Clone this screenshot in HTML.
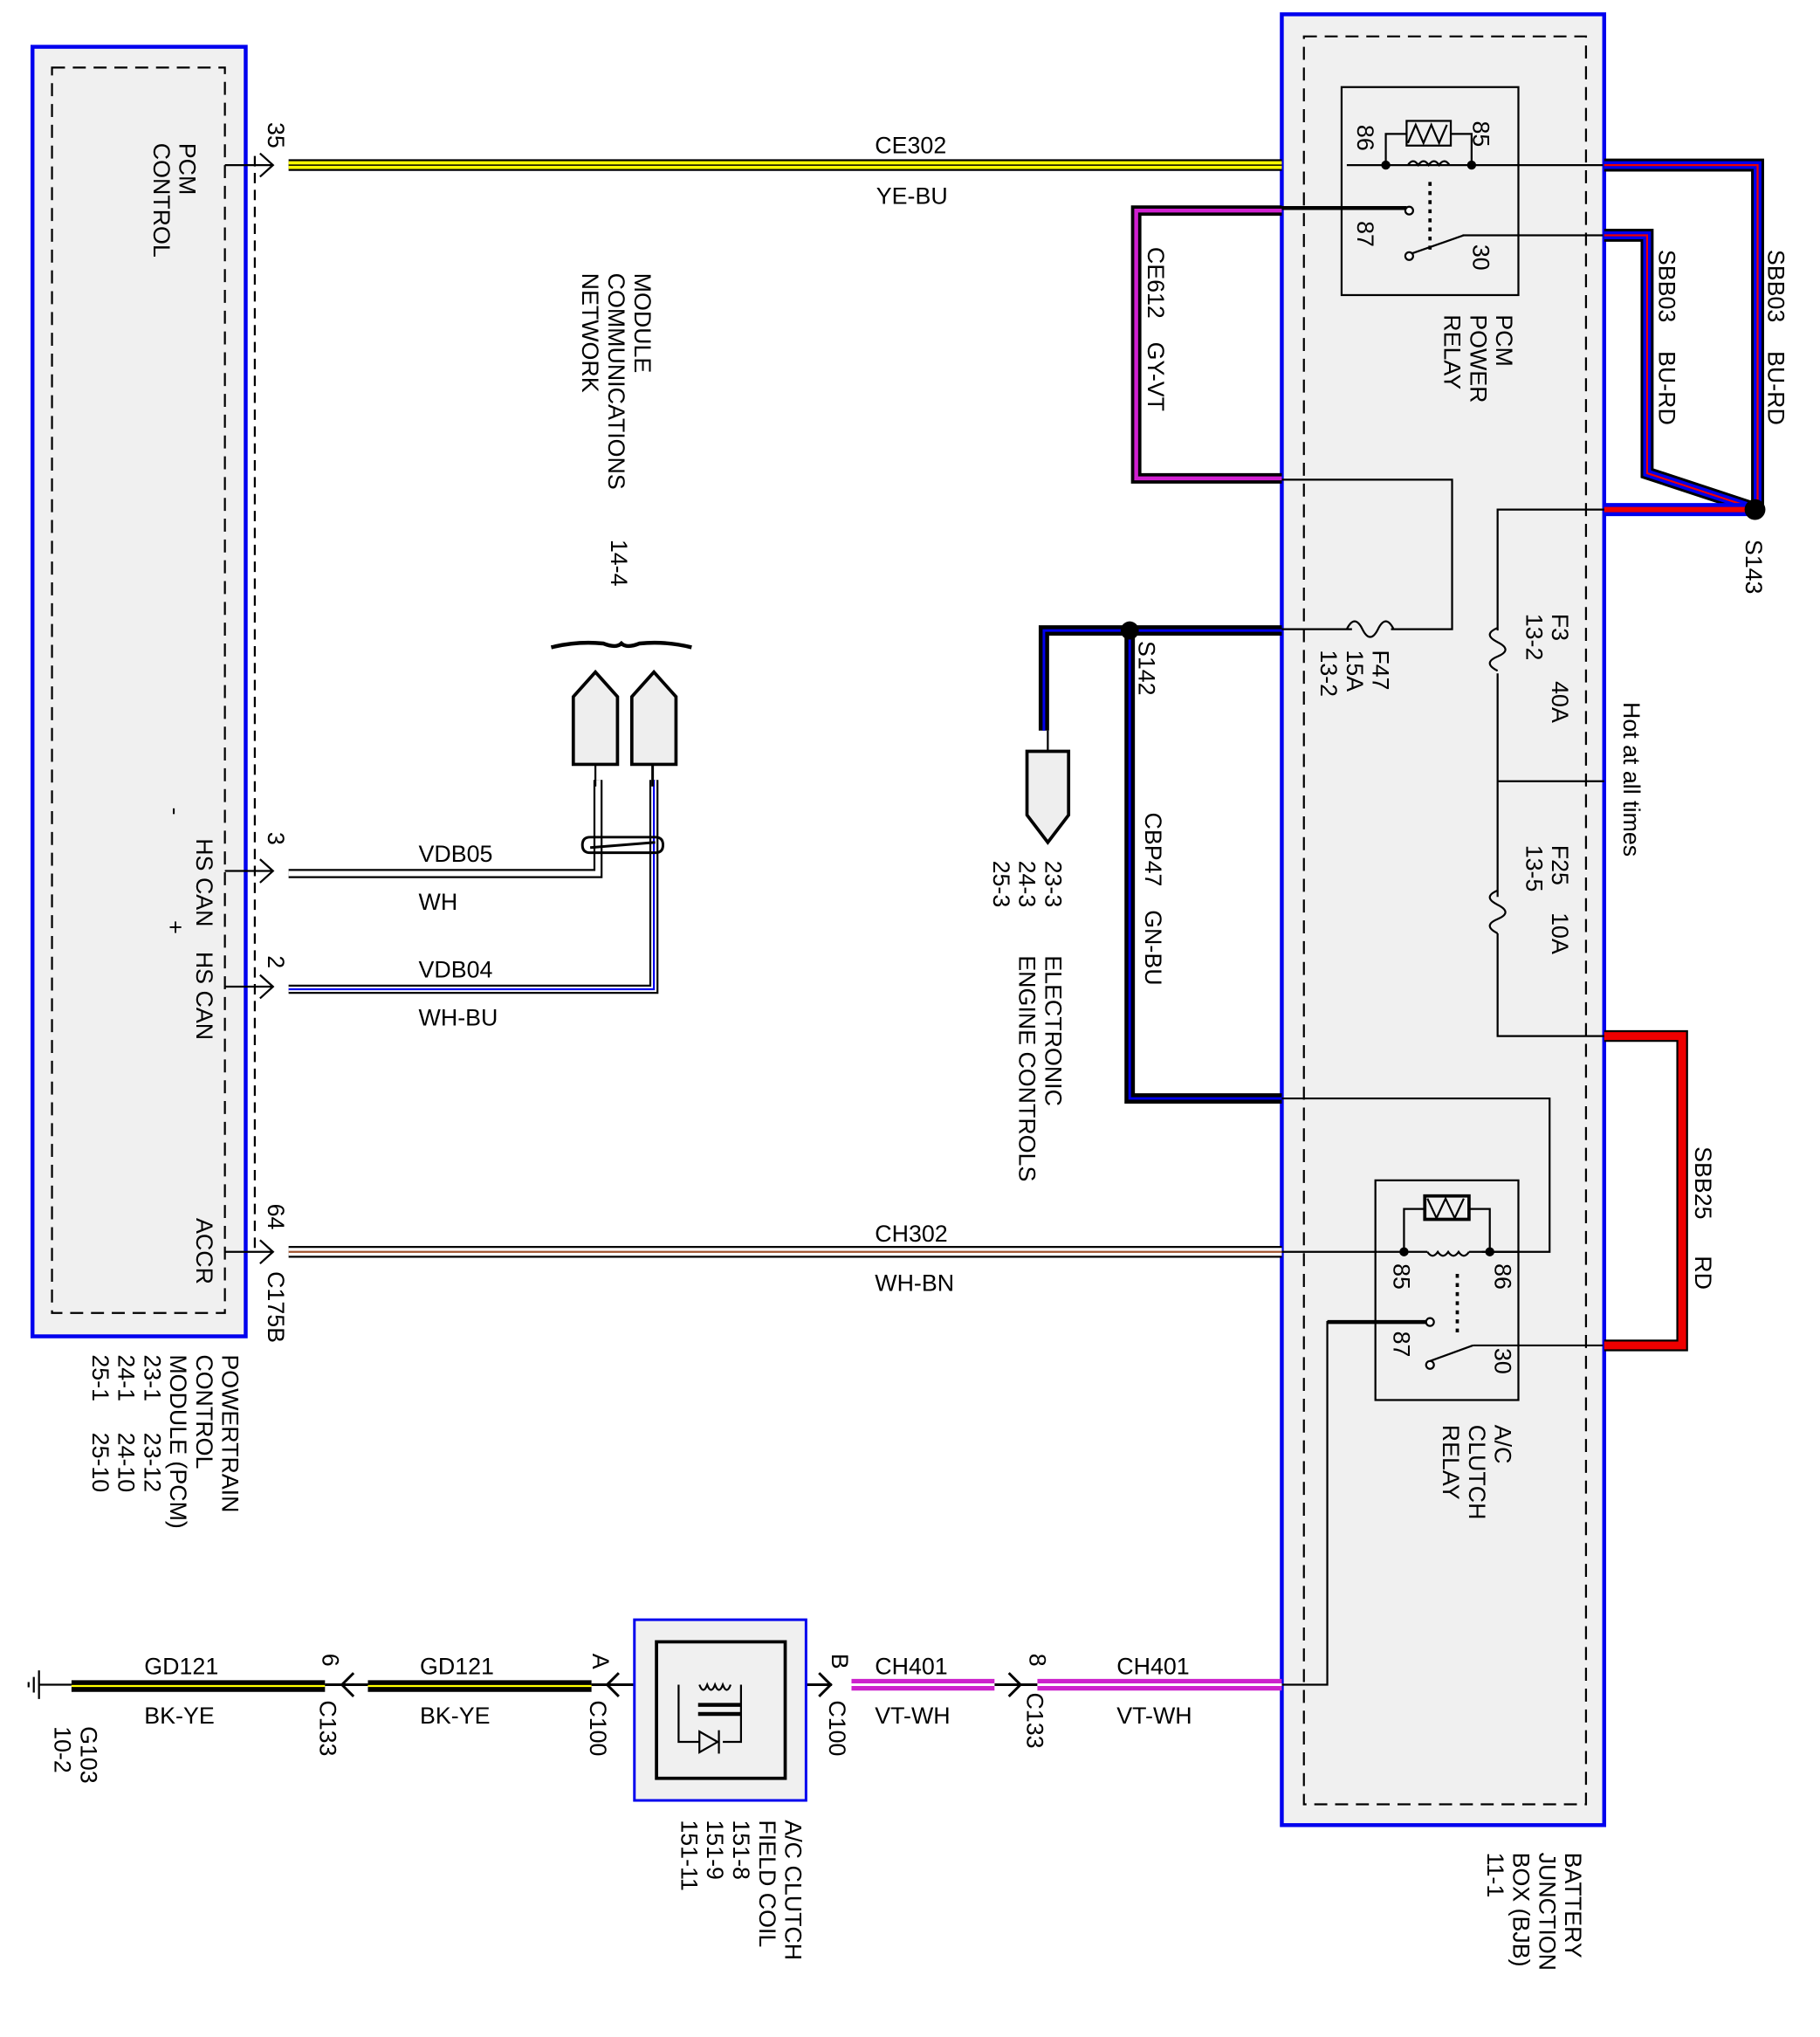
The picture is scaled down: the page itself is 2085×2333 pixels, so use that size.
<!DOCTYPE html>
<html><head><meta charset="utf-8"><style>html,body{margin:0;padding:0;background:#fff}svg{display:block}text{font-family:"Liberation Sans",sans-serif;font-size:18px;fill:#000}</style></head><body>
<svg width="2085" height="2333" viewBox="0 0 1400 1567" preserveAspectRatio="none" xmlns="http://www.w3.org/2000/svg">
<rect width="1412" height="1580" fill="#fff"/>
<rect x="25" y="36" width="164" height="992" fill="#f0f0f0" stroke="#0000ee" stroke-width="3"/>
<rect x="40" y="52" width="133" height="958" fill="none" stroke="#000" stroke-width="1.5" stroke-dasharray="10,6"/>
<line x1="196" y1="120" x2="196" y2="965" stroke="#000" stroke-width="1.5" stroke-dasharray="8,5"/>
<rect x="986" y="11" width="248" height="1393" fill="#f0f0f0" stroke="#0000ee" stroke-width="3"/>
<rect x="1003" y="28" width="217" height="1360" fill="none" stroke="#000" stroke-width="1.5" stroke-dasharray="10,6"/>
<g stroke-linecap="butt">
<line x1="222" y1="127" x2="986" y2="127" stroke="#000" stroke-width="9"/>
<line x1="222" y1="127" x2="986" y2="127" stroke="#ffff00" stroke-width="6"/>
<line x1="222" y1="127" x2="986" y2="127" stroke="#000" stroke-width="1"/>
<line x1="222" y1="963" x2="986" y2="963" stroke="#000" stroke-width="9"/>
<line x1="222" y1="963" x2="986" y2="963" stroke="#fff" stroke-width="6"/>
<line x1="222" y1="963" x2="986" y2="963" stroke="#a0522d" stroke-width="1.5"/>
</g>
<g fill="none" stroke="#000" stroke-width="1.5">
<path d="M173 127H210M200 118l10 9-10 9"/>
<path d="M173 670H210M200 661l10 9-10 9"/>
<path d="M173 759H210M200 750l10 9-10 9"/>
<path d="M173 963H210M200 954l10 9-10 9"/>
</g>
<g fill="none">
<path d="M222 672H460V600" stroke="#000" stroke-width="7"/>
<path d="M222 672H460V600" stroke="#fff" stroke-width="4"/>
<path d="M222 761H503V600" stroke="#000" stroke-width="7"/>
<path d="M222 761H503V600" stroke="#fff" stroke-width="4"/>
<path d="M222 761H503V600" stroke="#0000ee" stroke-width="1.5"/>
<line x1="458" y1="588" x2="458" y2="605" stroke="#000" stroke-width="1.5"/>
<line x1="502" y1="588" x2="502" y2="605" stroke="#000" stroke-width="2"/>
<path d="M448 650q0-6 6-6h50q6 0 6 6t-6 6h-50q-6 0-6-6M454 652L504 648" stroke="#000" stroke-width="2"/>
<path d="M424 498q20-5 40-3 10 4 14 0 4 4 14 0 20-2 40 3" stroke="#000" stroke-width="3"/>
</g>
<g fill="#eee" stroke="#000" stroke-width="2.5">
<path d="M441 588V536l17-19 17 19v52z"/>
<path d="M486 588V536l17-19 17 19v52z"/>
<path d="M790 578H822V627L806 648 790 627z"/>
</g>
<path d="M986 162H874V368H986" fill="none" stroke="#000" stroke-width="8"/>
<path d="M986 162H874V368H986" fill="none" stroke="#d020d0" stroke-width="3"/>
<path d="M986 485H803V562" fill="none" stroke="#000" stroke-width="8"/>
<path d="M986 485H803V562" fill="none" stroke="#0000ee" stroke-width="2"/>
<path d="M806 562V578" stroke="#000" stroke-width="1.5"/>
<path d="M869 485V845H986" fill="none" stroke="#000" stroke-width="8"/>
<path d="M869 485V845H986" fill="none" stroke="#0000ee" stroke-width="2"/>
<circle cx="869" cy="485" r="7" fill="#000"/>
<g fill="none">
<path d="M1234 127H1352V390" stroke="#000" stroke-width="10"/>
<path d="M1234 127H1352V390" stroke="#0000ee" stroke-width="6"/>
<path d="M1234 127H1352V390" stroke="#e00" stroke-width="1.5"/>
<path d="M1234 181H1267V364L1346 390" stroke="#000" stroke-width="10"/>
<path d="M1234 181H1267V364L1346 390" stroke="#0000ee" stroke-width="6"/>
<path d="M1234 181H1267V364L1346 390" stroke="#e00" stroke-width="1.5"/>
<path d="M1234 392H1348" stroke="#0000ee" stroke-width="10"/>
<path d="M1234 392H1348" stroke="#e00" stroke-width="4"/>
<path d="M1234 797H1294V1035H1234" stroke="#000" stroke-width="9"/>
<path d="M1234 797H1294V1035H1234" stroke="#ee0000" stroke-width="6"/>
</g>
<circle cx="1350" cy="392" r="8" fill="#000"/>
<g fill="none" stroke="#000" stroke-width="1.5">
<path d="M1233 127H1036M1233 181H1125"/>
<path d="M986 369H1117V484H1070M1040 484H986"/>
<path d="M1036 484q6-12 12 0t12 0t12 0" />
<path d="M1234 392H1152V485M1152 518V690M1152 718V797H1234M1152 601H1234"/>
<path d="M1152 485q-12 5 0 11t0 11q-12 5 0 11" transform="translate(0,-2)"/>
<path d="M1152 690q-12 5 0 11t0 11q-12 5 0 11" transform="translate(0,-5)"/>
<path d="M986 845H1192V963H1140M986 963H1060"/>
<path d="M1233 1035H1133"/>
<path d="M1098 1017H1021V1296H986"/>
</g>
<path d="M986 160H1082M1098 1017H1021" stroke="#000" stroke-width="3" fill="none"/>
<rect x="1032" y="67" width="136" height="160" fill="none" stroke="#000" stroke-width="1.5"/>
<g fill="none" stroke="#000" stroke-width="1.5">
<path d="M1066 127V103H1082M1116 103H1132V127"/>
<rect x="1082" y="93" width="34" height="19"/>
<path d="M1083 110l6-14 6 14 6-14 6 14 6-14"/>
<path d="M1083 127q4 -6 8 0q4 -6 8 0q4-6 8 0q4-6 8 0"/>
<path d="M1100 140V195" stroke-dasharray="3,4" stroke-width="2.5"/>
<path d="M1086 195L1126 181"/>
<circle cx="1084" cy="162" r="3" fill="#fff"/>
<circle cx="1084" cy="197" r="3" fill="#fff"/>
</g>
<circle cx="1066" cy="127" r="3.5" fill="#000"/><circle cx="1132" cy="127" r="3.5" fill="#000"/>
<rect x="1058" y="908" width="110" height="169" fill="none" stroke="#000" stroke-width="1.5"/>
<g fill="none" stroke="#000" stroke-width="1.5">
<path d="M1080 963V930H1096M1130 930H1146V963"/>
<rect x="1096" y="920" width="34" height="18" stroke-width="2.5"/>
<path d="M1098 922l7 15 7-15 7 15 7-15"/>
<path d="M1098 963q4 6 8 0q4 6 8 0q4 6 8 0q4 6 8 0"/>
<path d="M1060 963H1098M1130 963H1168"/>
<path d="M1121 980V1025" stroke-dasharray="3,4" stroke-width="2.5"/>
<path d="M1100 1047L1133 1035"/>
<circle cx="1100" cy="1017" r="3" fill="#fff"/>
<circle cx="1100" cy="1050" r="3" fill="#fff"/>
</g>
<circle cx="1080" cy="963" r="3.5" fill="#000"/><circle cx="1146" cy="963" r="3.5" fill="#000"/>
<g>
<path d="M30 1296H55M30 1285V1307M26 1290V1302M22 1294V1298" stroke="#000" stroke-width="1.5" fill="none"/>
<line x1="55" y1="1297" x2="250" y2="1297" stroke="#000" stroke-width="9"/>
<line x1="55" y1="1297" x2="250" y2="1297" stroke="#ffff00" stroke-width="1.5"/>
<line x1="283" y1="1297" x2="455" y2="1297" stroke="#000" stroke-width="9"/>
<line x1="283" y1="1297" x2="455" y2="1297" stroke="#ffff00" stroke-width="1.5"/>
<path d="M250 1296H283M272 1287l-9 9 9 9M455 1296H630M476 1287l-9 9 9 9M620 1296H640M630 1287l9 9-9 9M765 1296H798M776 1287l9 9-9 9" stroke="#000" stroke-width="2" fill="none"/>
<g fill="none">
<line x1="655" y1="1296" x2="765" y2="1296" stroke="#cc22cc" stroke-width="9"/>
<line x1="655" y1="1296" x2="765" y2="1296" stroke="#fff" stroke-width="2"/>
<line x1="798" y1="1296" x2="986" y2="1296" stroke="#cc22cc" stroke-width="9"/>
<line x1="798" y1="1296" x2="986" y2="1296" stroke="#fff" stroke-width="2"/>
</g>
<rect x="488" y="1246" width="132" height="139" fill="#f0f0f0" stroke="#0000ee" stroke-width="2"/>
<rect x="505" y="1263" width="99" height="105" fill="none" stroke="#000" stroke-width="2.5"/>
<g fill="none" stroke="#000" stroke-width="1.5">
<path d="M522 1296V1340H538M556 1340H570V1296"/>
<path d="M538 1296q3 8 6 0q3 8 6 0q3 8 6 0q3 8 6 0"/>
<path d="M538 1332l14 8-14 8z"/>
<path d="M553 1331V1349"/>
</g>
<rect x="537" y="1310" width="33" height="3" fill="#000"/><rect x="537" y="1317" width="33" height="3" fill="#000"/>
</g>
<text x="673" y="118">CE302</text><text x="674" y="157">YE-BU</text>
<text x="322" y="663">VDB05</text><text x="322" y="700">WH</text>
<text x="322" y="752">VDB04</text><text x="322" y="789">WH-BU</text>
<text x="673" y="955">CH302</text><text x="673" y="993">WH-BN</text>
<text x="111" y="1288">GD121</text><text x="111" y="1326">BK-YE</text>
<text x="323" y="1288">GD121</text><text x="323" y="1326">BK-YE</text>
<text x="673" y="1288">CH401</text><text x="673" y="1326">VT-WH</text>
<text x="859" y="1288">CH401</text><text x="859" y="1326">VT-WH</text>
<g font-size="17">
<text transform="translate(138,110) rotate(90)">PCM<tspan x="0" dy="20">CONTROL</tspan></text>
<text transform="translate(151,645) rotate(90)">HS CAN<tspan x="-24" dy="22">-</tspan></text>
<text transform="translate(151,732) rotate(90)">HS CAN<tspan x="-24" dy="22">+</tspan></text>
<text transform="translate(151,937) rotate(90)">ACCR</text>
<text transform="translate(206,94) rotate(90)">35</text>
<text transform="translate(206,640) rotate(90)">3</text>
<text transform="translate(206,735) rotate(90)">2</text>
<text transform="translate(206,926) rotate(90)">64</text>
<text transform="translate(206,978) rotate(90)">C175B</text>
<text transform="translate(171,1042) rotate(90)">POWERTRAIN<tspan x="0" dy="20">CONTROL</tspan><tspan x="0" dy="20">MODULE (PCM)</tspan><tspan x="0" dy="20">23-1</tspan><tspan x="60" dy="0">23-12</tspan><tspan x="0" dy="20">24-1</tspan><tspan x="60" dy="0">24-10</tspan><tspan x="0" dy="20">25-1</tspan><tspan x="60" dy="0">25-10</tspan></text>
<text transform="translate(488,210) rotate(90)">MODULE<tspan x="0" dy="20">COMMUNICATIONS</tspan><tspan x="0" dy="20">NETWORK</tspan></text>
<text transform="translate(470,415) rotate(90)">14-4</text>
<text transform="translate(804,662) rotate(90)">23-3<tspan x="0" dy="20">24-3</tspan><tspan x="0" dy="20">25-3</tspan></text>
<text transform="translate(804,735) rotate(90)">ELECTRONIC<tspan x="0" dy="20">ENGINE CONTROLS</tspan></text>
<text transform="translate(883,190) rotate(90)">CE612<tspan dx="18">GY-VT</tspan></text>
<text transform="translate(876,493) rotate(90)">S142</text>
<text transform="translate(881,625) rotate(90)">CBP47<tspan dx="18">GN-BU</tspan></text>
<text transform="translate(1044,96) rotate(90)">86</text>
<text transform="translate(1133,93) rotate(90)">85</text>
<text transform="translate(1044,170) rotate(90)">87</text>
<text transform="translate(1133,188) rotate(90)">30</text>
<text transform="translate(1151,242) rotate(90)">PCM<tspan x="0" dy="20">POWER</tspan><tspan x="0" dy="20">RELAY</tspan></text>
<text transform="translate(1276,192) rotate(90)">SBB03<tspan dx="22">BU-RD</tspan></text>
<text transform="translate(1360,192) rotate(90)">SBB03<tspan dx="22">BU-RD</tspan></text>
<text transform="translate(1343,415) rotate(90)">S143</text>
<text transform="translate(1056,500) rotate(90)">F47<tspan x="0" dy="20">15A</tspan><tspan x="0" dy="20">13-2</tspan></text>
<text transform="translate(1194,472) rotate(90)">F3<tspan x="0" dy="20">13-2</tspan><tspan x="52" dy="-20">40A</tspan></text>
<text transform="translate(1194,650) rotate(90)">F25<tspan x="0" dy="20">13-5</tspan><tspan x="52" dy="-20">10A</tspan></text>
<text transform="translate(1249,540) rotate(90)">Hot at all times</text>
<text transform="translate(1304,882) rotate(90)">SBB25<tspan dx="28">RD</tspan></text>
<text transform="translate(1072,972) rotate(90)">85</text>
<text transform="translate(1150,972) rotate(90)">86</text>
<text transform="translate(1072,1024) rotate(90)">87</text>
<text transform="translate(1150,1037) rotate(90)">30</text>
<text transform="translate(1150,1096) rotate(90)">A/C<tspan x="0" dy="20">CLUTCH</tspan><tspan x="0" dy="20">RELAY</tspan></text>
<text transform="translate(1204,1425) rotate(90)">BATTERY<tspan x="0" dy="20">JUNCTION</tspan><tspan x="0" dy="20">BOX (BJB)</tspan><tspan x="0" dy="20">11-1</tspan></text>
<text transform="translate(62,1328) rotate(90)">G103<tspan x="0" dy="20">10-2</tspan></text>
<text transform="translate(248,1272) rotate(90)">6</text>
<text transform="translate(246,1308) rotate(90)">C133</text>
<text transform="translate(456,1272) rotate(90)">A</text>
<text transform="translate(454,1308) rotate(90)">C100</text>
<text transform="translate(640,1272) rotate(90)">B</text>
<text transform="translate(638,1308) rotate(90)">C100</text>
<text transform="translate(792,1272) rotate(90)">8</text>
<text transform="translate(790,1302) rotate(90)">C133</text>
<text transform="translate(604,1400) rotate(90)">A/C CLUTCH<tspan x="0" dy="20">FIELD COIL</tspan><tspan x="0" dy="20">151-8</tspan><tspan x="0" dy="20">151-9</tspan><tspan x="0" dy="20">151-11</tspan></text>
</g>
</svg>
</body></html>
